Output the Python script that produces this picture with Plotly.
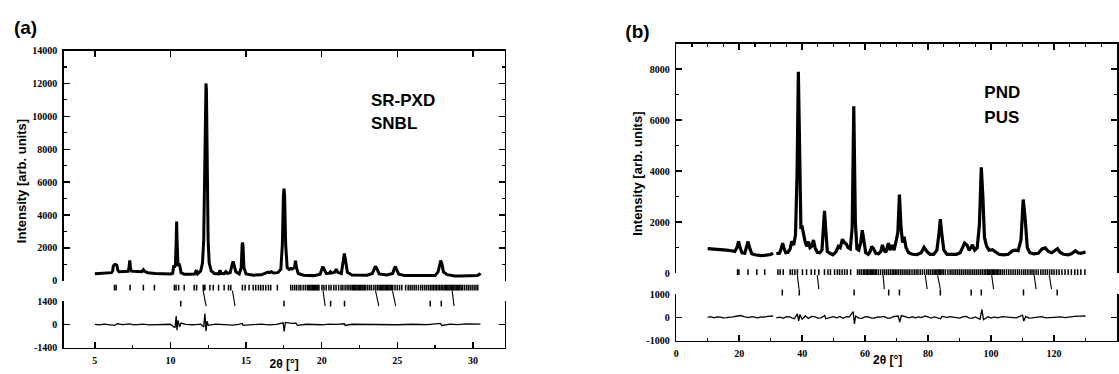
import plotly.graph_objects as go

# ---------------- DATA ----------------
# Panel (a): SR-PXD / SNBL profile (2theta, intensity)
a_x = [5.0, 5.3, 5.6, 5.9, 6.1, 6.18, 6.22, 6.30, 6.38, 6.46, 6.52, 6.6,
       6.9, 7.2, 7.26, 7.31, 7.36, 7.42, 7.8, 8.1, 8.17, 8.21, 8.26, 8.5, 9.0, 9.5, 10.0,
       10.15, 10.22, 10.27, 10.33, 10.38, 10.41, 10.44, 10.5, 10.56, 10.62, 10.7, 10.9,
       11.3, 11.6, 11.72, 11.8, 12.0, 12.12, 12.2, 12.26, 12.32, 12.35, 12.38, 12.43,
       12.49, 12.56, 12.7, 12.9, 13.2, 13.28, 13.35, 13.55, 13.66, 13.75, 13.95, 14.08,
       14.14, 14.2, 14.32, 14.55, 14.68, 14.74, 14.77, 14.8, 14.86, 15.0, 15.5, 16.0,
       16.3, 16.45, 16.55, 16.68, 16.8, 17.1, 17.3, 17.4, 17.47, 17.51, 17.55, 17.62,
       17.72, 17.85, 17.95, 18.05, 18.12, 18.2, 18.27, 18.33, 18.45, 18.8, 19.5, 19.9,
       20.03, 20.08, 20.14, 20.3, 20.5, 20.58, 20.66, 20.85, 20.96, 21.06, 21.3, 21.43,
       21.5, 21.57, 21.7, 22.0, 22.5, 23.0, 23.35, 23.45, 23.55, 23.65, 23.8, 24.3,
       24.7, 24.8, 24.87, 24.95, 25.1, 25.5, 26.5, 27.0, 27.5, 27.7, 27.8, 27.87, 27.95,
       28.05, 28.3, 28.8, 29.2, 29.6, 29.8, 30.0, 30.3, 30.45, 30.5]
a_obs = [430, 450, 460, 480, 500, 600, 900, 980, 990, 940, 650, 560,
         560, 580, 800, 1250, 780, 590, 570, 560, 640, 680, 600, 500, 450, 430, 420,
         460, 950, 800, 1000, 2400, 3600, 2400, 900, 1050, 900, 500, 410,
         400, 420, 650, 430, 600, 1100, 2500, 6000, 11800, 12000, 11600, 6000,
         2500, 1100, 600, 450, 430, 650, 460, 440, 560, 460, 500, 1000,
         1180, 1000, 550, 420, 800, 2200, 2330, 2100, 800, 420, 350, 370,
         450, 530, 500, 560, 480, 500, 700, 2200, 5200, 5600, 5200, 2200,
         800, 700, 760, 720, 770, 800, 1230, 820, 450, 340, 320, 400,
         760, 870, 760, 450, 460, 550, 470, 520, 710, 520, 450, 1300,
         1660, 1300, 520, 360, 340, 340, 450, 700, 880, 750, 420, 360,
         450, 750, 870, 700, 400, 320, 300, 300, 320, 550, 1100, 1240, 1050,
         550, 380, 300, 300, 310, 350, 330, 330, 420, 470]

# Panel (a): difference curve
a_dx = [5.0, 5.3, 5.6, 6.0, 6.3, 6.5, 6.8, 7.0, 7.3, 7.6, 8.0, 8.2, 8.6, 9.0, 9.5,
        10.0, 10.3, 10.38, 10.43, 10.5, 10.6, 10.7, 11.0, 11.5, 12.0, 12.2, 12.28,
        12.35, 12.42, 12.5, 13.0, 13.5, 14.1, 14.5, 14.75, 14.8, 15.5, 16.0, 16.5,
        17.0, 17.45, 17.52, 17.6, 18.0, 18.3, 18.4, 19.0, 19.5, 20.0, 20.5, 21.0,
        21.5, 21.55, 22.0, 23.0, 23.6, 24.2, 25.0, 26.0, 27.0, 27.85, 27.95, 28.5,
        29.0, 29.5, 30.0, 30.5]
a_diff = [0, -30, 20, -20, -60, 40, -10, 10, 30, -20, 10, 20, -30, -10, 20,
          10, -200, 500, -350, 250, -150, 80, 0, -20, 20, -150, 650,
          -400, 200, -50, 20, -20, -40, 10, 60, -50, 0, 20, -30,
          10, 100, -420, 120, 60, 80, -50, 10, -20, -20, 20, 0,
          40, -60, 10, 0, 30, -20, -20, 10, -10, 60, -60, 20,
          -10, 40, 20, 20]

# Panel (a): reflection markers
a_row1 = [6.30, 6.41, 7.33, 8.21, 8.94, 10.26, 10.37, 10.54, 10.91, 11.57, 11.73,
          12.17, 12.22, 12.28, 12.61, 12.83, 13.18, 13.55, 13.84, 13.99, 14.76, 14.94,
          15.20, 15.47, 15.64, 15.82, 15.97, 16.13, 16.30, 16.48, 16.63, 17.07,
          17.95, 18.08, 18.22, 18.35, 18.50, 18.62, 18.78, 18.92, 19.05, 19.15, 19.22,
          19.30, 19.38, 19.45, 19.52, 19.60, 19.68, 19.75, 19.82, 20.02, 20.15, 20.30,
          20.48, 20.62, 20.80, 20.95, 21.12, 21.28, 21.40, 21.55, 21.68, 21.80, 21.92,
          22.02, 22.10, 22.18, 22.26, 22.34, 22.42, 22.50, 22.58, 22.66, 22.74, 22.82,
          22.92, 23.05, 23.18, 23.30, 23.45, 23.58, 23.70, 23.80, 23.88, 23.96, 24.04,
          24.12, 24.20, 24.28, 24.36, 24.44, 24.52, 24.60, 24.70, 24.85, 25.00, 25.15,
          25.30, 25.55, 25.72, 25.85, 25.98, 26.12, 26.25, 26.40, 26.55, 26.68, 26.82,
          26.95, 27.08, 27.20, 27.30, 27.40, 27.50, 27.60, 27.70, 27.80, 27.90, 28.00,
          28.10, 28.18, 28.26, 28.34, 28.42, 28.50, 28.58, 28.66, 28.74, 28.82, 28.90,
          28.98, 29.06, 29.14, 29.22, 29.32, 29.45, 29.58, 29.70, 29.82, 29.95, 30.08,
          30.20, 30.32]
a_row2 = [10.68, 17.51, 20.59, 21.51, 27.18, 27.91]
a_slant_from = [12.16, 14.10, 20.09, 23.56, 24.68, 28.63]
a_slant_to = [12.36, 14.27, 20.23, 23.78, 24.90, 28.75]

# Panel (b): PND / PUS profile (two segments, gap near 31 deg)
b_x = [10, 12, 14, 16, 17.5, 18.6, 19.3, 19.8, 20.3, 20.9, 21.8, 22.3, 22.8, 23.3, 24.0,
       25, 26, 27, 28, 29, 30, 30.8, None,
       31.8, 32.8, 33.3, 33.8, 34.3, 34.8, 35.5, 36.2, 36.7, 37.3, 37.9, 38.4, 38.8, 39.2,
       39.6, 40.0, 40.5, 41.0, 41.5, 42.0, 42.5, 43.0, 43.6, 44.1, 44.8, 45.6, 46.3, 46.8,
       47.1, 47.5, 48.0, 48.8, 49.8, 50.8, 51.5, 52.1, 52.8, 53.4, 54.0, 54.6, 55.3, 55.9,
       56.4, 56.9, 57.4, 58.0, 58.6, 59.1, 59.6, 60.2, 61.0, 61.6, 62.1, 62.7, 63.4, 64.3,
       65.0, 65.5, 66.0, 66.6, 67.4, 67.9, 68.6, 69.2, 69.8, 70.4, 70.9, 71.4, 71.9, 72.4,
       73.0, 73.8, 75.0, 76.5, 77.8, 78.7, 79.6, 80.6, 81.8, 82.8, 83.5, 83.9, 84.3, 85.0,
       86.0, 87.5, 89.0, 90.2, 91.0, 91.6, 92.4, 93.0, 93.6, 94.1, 94.8, 95.6, 96.3, 96.9,
       97.4, 97.9, 98.6, 99.4, 100.4, 101.2, 102.5, 104, 105.5, 106.8, 107.6, 108.6, 109.5,
       110.2, 110.8, 111.5, 112.3, 113.5, 115, 116.2, 117.2, 118.2, 119.3, 120.4, 121.1,
       121.9, 123, 124.5, 125.5, 126.8, 127.6, 128.5, 129.3, 130]
b_obs = [960, 950, 940, 900, 880, 850, 1000, 1250, 1000, 800, 780, 1000, 1240, 1000, 760,
         720, 700, 690, 700, 710, 730, 780, None,
         770, 780, 950, 1180, 950, 800, 820, 950, 1250, 1100, 1500, 4000, 7900, 4500,
         1800, 1810, 1500, 1200, 1050, 1240, 1000, 1050, 1300, 1000, 820, 800, 900, 1800,
         2440, 1700, 850, 780, 720, 850, 1050, 1000, 1330, 1200, 1150, 1000, 950, 1800,
         6550, 2000, 950, 900, 1200, 1680, 1200, 800, 740, 850, 1050, 950, 780, 760,
         850, 1110, 900, 820, 1180, 900, 1100, 900, 1240, 1600, 3080, 1800, 1200, 1430,
         1000, 800, 740, 730, 800, 1010, 850, 740, 740, 900, 1600, 2120, 1600, 900,
         740, 730, 740, 800, 1000, 1180, 1100, 900, 1000, 1110, 900, 1000, 1900, 4150,
         3000, 1400, 1050, 900, 920, 850, 740, 720, 740, 880, 900, 880, 1300,
         2890, 2200, 1000, 800, 760, 780, 950, 990, 850, 800, 900, 960,
         820, 740, 720, 760, 880, 800, 780, 800, 830]

# Panel (b): difference curve
b_dx = [10, 11, 12, 13, 14, 15, 16, 17, 18, 19.5, 20.5, 21.5, 23, 24, 25, 26, 27, 28, 29,
        30, 30.8, None,
        31.8, 33, 34, 35, 36, 37.5, 38.5, 38.9, 39.3, 40, 41, 42, 43, 44, 45, 46, 47.2,
        47.5, 49, 50, 51, 52, 53, 54, 55, 56.2, 56.6, 57, 58, 59, 60, 61, 62, 63, 64, 65,
        66, 67, 68, 69, 70.5, 71, 71.5, 73, 74, 75, 76, 77, 78, 79, 80, 81, 82, 83, 84,
        84.4, 86, 87, 88, 89, 90, 91, 92, 93, 94, 95, 96.5, 97.1, 97.6, 99, 100, 101,
        102, 103.5, 105, 106.5, 108, 110, 110.4, 111, 112, 113, 114.5, 116, 117.5, 119,
        120.5, 122, 123.5, 125, 126.5, 128, 129, 130]
b_diff = [0, 30, -20, 20, 10, -20, -10, 20, 20, 60, 80, 30, -10, 30, 0, -20, 20, 10, 40,
          50, 60, None,
          -20, 10, -40, 30, 20, -60, 150, -150, 120, -80, 60, -50, 40, 30, -30, -20, 80,
          -60, 0, 30, -20, 40, -40, 30, 20, 250, -280, 60, -30, -40, 30, 20, -30, -30, 20, 10,
          40, -30, -30, 30, 60, -200, 80, 20, -20, 30, -20, 20, -10, 60, 10, -30, 20, -30, -60,
          40, 0, 30, 0, -20, -30, 20, 40, -20, -40, 20, -80, 340, -100, 30, -30, 20,
          -20, 30, 10, -20, -20, 100, -160, 40, -30, -20, 20, 30, -20, -10,
          20, 20, -10, 30, 40, 50, 40, 60]

# Panel (b): reflection markers
b_row1 = [19.5, 19.9, 22.8, 25.6, 28.1, 32.3, 33.0, 34.0, 36.2, 36.9, 37.7, 38.5, 40.1,
          41.4, 42.9, 44.0, 45.3, 47.1, 48.2, 49.0, 50.3, 51.2, 51.9, 52.7, 53.5, 54.3,
          55.4, 57.6, 58.2, 58.8, 59.4, 59.9, 60.4, 60.8, 61.2, 61.6, 62.0, 62.4, 62.8,
          63.2, 63.6, 64.2, 64.9, 65.6, 66.2, 66.8, 67.4, 68.0, 68.6, 69.1, 69.6, 70.1,
          70.6, 71.2, 71.8, 72.4, 73.0, 73.6, 74.2, 74.9, 75.6, 76.2, 76.8, 77.5, 78.2,
          78.9, 79.6, 80.2, 80.8, 81.4, 81.9, 82.4, 82.8, 83.2, 83.6, 84.0, 84.4, 84.9,
          85.5, 86.3, 87.0, 87.6, 88.2, 88.8, 89.4, 90.0, 90.6, 91.2, 91.8, 92.4, 93.0,
          93.6, 94.2, 94.8, 95.4, 96.0, 96.6, 97.2, 97.8, 98.3, 98.8, 99.2, 99.6, 100.0,
          100.4, 100.8, 101.2, 101.6, 102.0, 102.5, 103.0, 103.6, 104.2, 104.9, 105.6,
          106.3, 107.0, 107.7, 108.4, 109.0, 109.7, 110.4, 111.0, 111.7, 112.4, 113.0,
          113.6, 114.3, 115.0, 115.8, 116.5, 117.2, 117.9, 118.6, 119.3, 120.0, 120.8,
          121.6, 122.5, 123.5, 124.5, 125.5, 126.6, 127.5, 128.5, 129.8]
b_row2 = [33.7, 39.1, 56.5, 67.5, 70.9, 83.9, 93.7, 96.9, 110.3, 121.0]
b_slant_from = [38.5, 44.8, 65.7, 79.1, 83.0, 100.2, 113.7, 118.5]
b_slant_to = [39.0, 45.3, 66.1, 79.7, 83.9, 100.8, 114.3, 119.2]

# Axis ticks
a_xticks = [5, 10, 15, 20, 25, 30]
a_yticks = [0, 2000, 4000, 6000, 8000, 10000, 12000, 14000]
a_dticks = [-1400, 0, 1400]
b_xticks = [0, 20, 40, 60, 80, 100, 120, 140]
b_yticks = [0, 2000, 4000, 6000, 8000]
b_dticks = [-1000, 0, 1000]

# ---------------- LAYOUT HELPERS ----------------
W, H = 1119, 374


def fx(px):
    return px / W


def fy(py):
    return 1 - py / H


def vlines(pos, y0, y1):
    xs, ys = [], []
    for p in pos:
        xs += [p, p, None]
        ys += [y0, y1, None]
    return xs, ys


def slants(p_from, p_to, y0, y1):
    xs, ys = [], []
    for a, b in zip(p_from, p_to):
        xs += [a, b, None]
        ys += [y0, y1, None]
    return xs, ys


INK = "black"
tickfont = dict(family="Liberation Serif", size=10, color=INK, weight="bold")
sans = "Liberation Sans"

fig = go.Figure()


def add_lines(xs, ys, xa, ya, width):
    fig.add_trace(go.Scatter(x=xs, y=ys, mode="lines", line=dict(color=INK, width=width),
                             xaxis=xa, yaxis=ya, showlegend=False, hoverinfo="skip",
                             connectgaps=False))


# ---- panel (a) traces ----
add_lines(a_x, a_obs, "x", "y", 3.0)
fig.add_trace(go.Scatter(x=a_x[:1], y=a_obs[:1], mode="markers", opacity=0,
                         xaxis="x2", yaxis="y", showlegend=False, hoverinfo="skip"))
add_lines(a_dx, a_diff, "x", "y3", 1.3)
xs, ys = vlines(a_row1, 288, 294)
add_lines(xs, ys, "x", "y2", 1.5)
xs, ys = vlines(a_row2, 304.5, 310.5)
add_lines(xs, ys, "x", "y2", 1.5)
xs, ys = slants(a_slant_from, a_slant_to, 294, 310)
add_lines(xs, ys, "x", "y2", 1.1)

# ---- panel (b) traces ----
add_lines(b_x, b_obs, "x3", "y4", 3.2)
fig.add_trace(go.Scatter(x=b_x[:1], y=b_obs[:1], mode="markers", opacity=0,
                         xaxis="x4", yaxis="y4", showlegend=False, hoverinfo="skip"))
add_lines(b_dx, b_diff, "x3", "y6", 1.3)
xs, ys = vlines(b_row1, 272, 278)
add_lines(xs, ys, "x3", "y5", 1.5)
xs, ys = vlines(b_row2, 293, 299)
add_lines(xs, ys, "x3", "y5", 1.5)
xs, ys = slants(b_slant_from, b_slant_to, 278, 292.5)
add_lines(xs, ys, "x3", "y5", 1.1)


# ---- text labels on a page-pixel overlay (so edge text can be cut like the original) ----
def text_label(text, px, py, size, pos="middle right"):
    fig.add_trace(go.Scatter(x=[px], y=[py], mode="text", text=[text], textposition=pos,
                             textfont=dict(family=sans, size=size, color=INK, weight="bold"),
                             xaxis="x5", yaxis="y7", cliponaxis=False, showlegend=False,
                             hoverinfo="skip"))


text_label("(a)", 11, 24, 19)
text_label("(b)", 624, 28, 19)
text_label("SR-PXD", 369, 99, 17)
text_label("SNBL", 369, 123, 17)
text_label("PND", 984, 91, 17)
text_label("PUS", 984, 116, 17)
text_label("2θ [°]", 282, 371, 12, "middle center")
text_label("2θ [°]", 887, 367, 12, "middle center")

frame = dict(showline=True, linecolor=INK, linewidth=1.5, ticks="inside", ticklen=6,
             tickwidth=1.5, tickcolor=INK, showgrid=False, zeroline=False, tickfont=tickfont,
             ticklabelstandoff=3)
minor_style = dict(ticks="inside", ticklen=3, tickwidth=1.2, tickcolor=INK, tick0=0,
                   showgrid=False)

A_RANGE = [2.95, 32.1]
B_RANGE = [0, 140]

fig.update_layout(
    width=W, height=H, autosize=False,
    margin=dict(l=0, r=0, t=0, b=0),
    paper_bgcolor="white", plot_bgcolor="rgba(0,0,0,0)",
    xaxis=dict(frame, domain=[fx(61), fx(503)], range=A_RANGE, anchor="y3",
               tickvals=a_xticks, minor=dict(minor_style, dtick=2.5)),
    xaxis2=dict(frame, overlaying="x", range=A_RANGE, anchor="y", side="top",
                tickvals=a_xticks, showticklabels=False),
    yaxis=dict(frame, domain=[fy(284), fy(46)], range=[0, 14000], anchor="x",
               mirror="ticks", tickvals=a_yticks, tickformat="d",
               minor=dict(minor_style, dtick=1000)),
    yaxis2=dict(domain=[fy(312), fy(284)], range=[312, 284], anchor="x", visible=False),
    yaxis3=dict(frame, domain=[fy(353), fy(305)], range=[-1400, 1400], anchor="x",
                mirror="ticks", tickvals=a_dticks, ticktext=[str(v) for v in a_dticks]),
    xaxis3=dict(frame, domain=[fx(675), fx(1117)], range=B_RANGE, anchor="y6",
                tickvals=b_xticks, minor=dict(minor_style, dtick=10)),
    xaxis4=dict(frame, overlaying="x3", range=B_RANGE, anchor="y4", side="top",
                tickvals=b_xticks, showticklabels=False,
                minor=dict(minor_style, dtick=5)),
    yaxis4=dict(frame, domain=[fy(276), fy(39)], range=[0, 9000], anchor="x3",
                mirror="ticks", tickvals=b_yticks, tickformat="d",
                minor=dict(minor_style, dtick=1000)),
    yaxis5=dict(domain=[fy(302), fy(268)], range=[302, 268], anchor="x3", visible=False),
    yaxis6=dict(frame, domain=[fy(345.7), fy(297.7)], range=[-1000, 1000], anchor="x3",
                mirror="ticks", tickvals=b_dticks, ticktext=[str(v) for v in b_dticks]),
    xaxis5=dict(domain=[0, 1], range=[0, W], anchor="y7", visible=False),
    yaxis7=dict(domain=[0, 1], range=[H, 0], anchor="x5", visible=False),
)

# rotated axis titles
for px, py in [(18, 181), (636, 173)]:
    fig.add_annotation(text="Intensity [arb. units]", x=fx(px), y=fy(py), xref="paper",
                       yref="paper", showarrow=False, xanchor="center", yanchor="middle",
                       textangle=-90,
                       font=dict(family=sans, size=13, color=INK, weight="bold"))

fig.write_html(
    "out.html",
    config={"displayModeBar": False, "staticPlot": True},
    post_script="document.body.style.margin='0';document.body.style.overflow='hidden';",
)
